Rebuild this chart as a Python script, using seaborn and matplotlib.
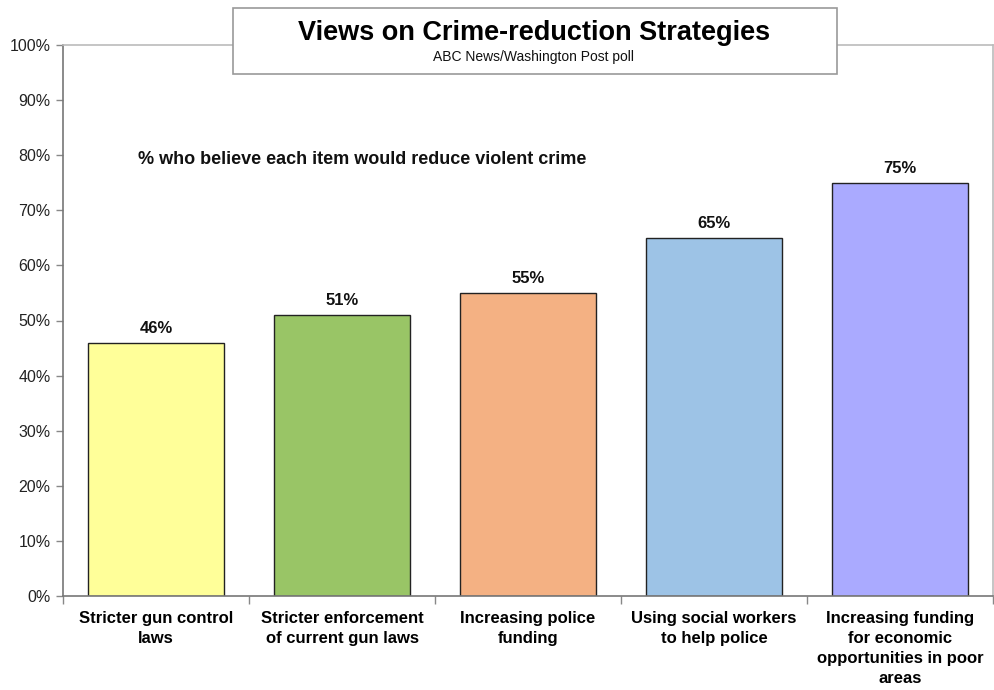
import matplotlib
matplotlib.use("Agg")
import matplotlib.pyplot as plt
import seaborn as sns
import pandas as pd
import numpy as np
from matplotlib.patches import Rectangle
from matplotlib.ticker import FixedLocator

categories = ["Stricter gun control\nlaws",
              "Stricter enforcement\nof current gun laws",
              "Increasing police\nfunding",
              "Using social workers\nto help police",
              "Increasing funding\nfor economic\nopportunities in poor\nareas"]
values = [46, 51, 55, 65, 75]
colors = ["#FFFF99", "#99C566", "#F4B183", "#9DC3E6", "#AAAAFF"]
yticks = [0, 10, 20, 30, 40, 50, 60, 70, 80, 90, 100]

sns.set_style("white")
plt.rcParams['font.family'] = ['Liberation Sans', 'DejaVu Sans']

df = pd.DataFrame({"cat": categories, "val": values})

fig = plt.figure(figsize=(9.95, 6.9), dpi=100)
ax = fig.add_axes([63/995, 1-596/690, (993-63)/995, (596-45)/690])

sns.barplot(data=df, x="cat", y="val", hue="cat", palette=colors, legend=False,
            width=0.726, edgecolor="#222222", linewidth=1.0, ax=ax, saturation=1)

ax.set_ylim(0, 100)
ax.set_xlim(-0.5, 4.5)
ax.set_yticks(yticks)
ax.set_yticklabels([f"{t}%" for t in yticks], fontsize=11.5, color="#222222")
ax.set_xlabel("")
ax.set_ylabel("")
ax.set_xticks(range(len(categories)))
ax.set_xticklabels(categories, fontsize=12, fontweight="bold", color="black",
                   linespacing=1.4)
ax.tick_params(axis="x", which="major", length=0, pad=11)
ax.xaxis.set_minor_locator(FixedLocator(np.arange(-0.5, 5.0, 1.0)))
ax.tick_params(axis="x", which="minor", length=6, color="#888888", width=1, direction="out", bottom=True)
ax.tick_params(axis="y", length=5, color="#888888", width=1, direction="out", left=True, pad=4)

for side in ["top", "right"]:
    ax.spines[side].set_visible(True)
    ax.spines[side].set_color("#BBBBBB")
    ax.spines[side].set_linewidth(1.2)
for side in ["left", "bottom"]:
    ax.spines[side].set_color("#777777")
    ax.spines[side].set_linewidth(1.2)

for i, v in enumerate(values):
    ax.text(i, v + 1.2, f"{v}%", ha="center", va="bottom", fontsize=12, fontweight="bold", color="#111111")

fig.text(138/995, 1-160/690, "% who believe each item would reduce violent crime",
         ha="left", va="center", fontsize=13, fontweight="bold", color="#111111")

# title box
box = Rectangle((233/995, 1-74/690), (837-233)/995, (74-8)/690, transform=fig.transFigure,
                facecolor="white", edgecolor="#999999", linewidth=1.2, zorder=5)
fig.patches.append(box)
fig.text(534/995, 1-33/690, "Views on Crime-reduction Strategies", ha="center", va="center",
         fontsize=19.5, fontweight="bold", color="black", zorder=6)
fig.text(534/995, 1-57/690, "ABC News/Washington Post poll", ha="center", va="center",
         fontsize=10, color="#111111", zorder=6)

fig.savefig("out.png", dpi=100)
